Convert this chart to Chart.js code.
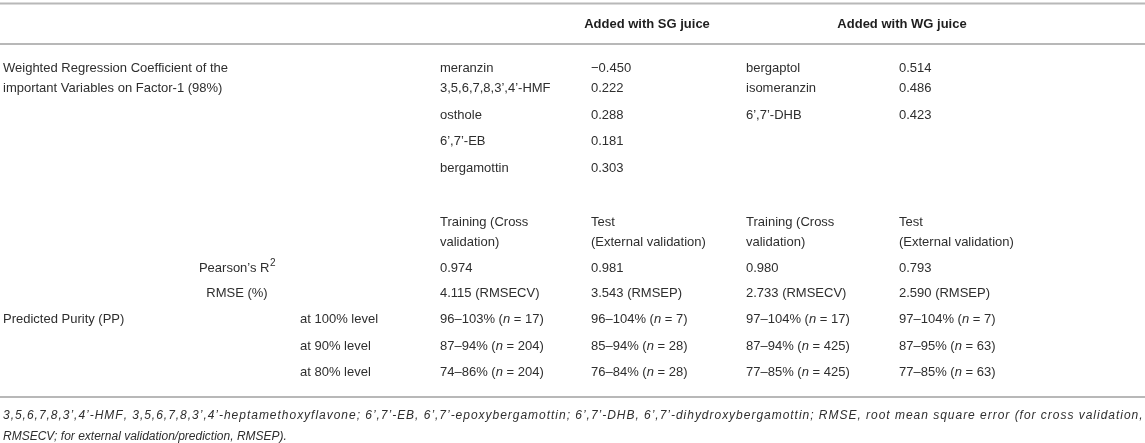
<!DOCTYPE html>
<html>
<head>
<meta charset="utf-8">
<script src="https://cdn.jsdelivr.net/npm/chart.js@4.4.1/dist/chart.umd.min.js"></script>
<style>
  html, body { margin: 0; padding: 0; background: #ffffff; }
  #wrap { width: 1145px; height: 443px; position: relative; }
</style>
</head>
<body>
<div id="wrap"><canvas id="c"></canvas></div>
<script>
// ---------------- DATA ----------------
const groupHeaders = ['Added with SG juice', 'Added with WG juice'];
const coefTitle = ['Weighted Regression Coefficient of the', 'important Variables on Factor-1 (98%)'];
const sgCompounds = ['meranzin', '3,5,6,7,8,3’,4’-HMF', 'osthole', '6’,7’-EB', 'bergamottin'];
const sgCoefficients = [-0.450, 0.222, 0.288, 0.181, 0.303];
const wgCompounds = ['bergaptol', 'isomeranzin', '6’,7’-DHB'];
const wgCoefficients = [0.514, 0.486, 0.423];
const modelColumns = [
  ['Training (Cross', 'validation)'],
  ['Test', '(External validation)'],
  ['Training (Cross', 'validation)'],
  ['Test', '(External validation)']
];
const pearsonR2 = [0.974, 0.981, 0.980, 0.793];
const rmseValues = [4.115, 3.543, 2.733, 2.590];
const rmseKinds = ['RMSECV', 'RMSEP', 'RMSECV', 'RMSEP'];
const purityTitle = 'Predicted Purity (PP)';
const purityLevels = ['at 100% level', 'at 90% level', 'at 80% level'];
const purityLow = [[96, 96, 97, 97], [87, 85, 87, 87], [74, 76, 77, 77]];
const purityHigh = [[103, 104, 104, 104], [94, 94, 94, 95], [86, 84, 85, 85]];
const purityN = [[17, 7, 17, 7], [204, 28, 425, 63], [204, 28, 425, 63]];
const footnote = [
  '3,5,6,7,8,3’,4’-HMF, 3,5,6,7,8,3’,4’-heptamethoxyflavone; 6’,7’-EB, 6’,7’-epoxybergamottin; 6’,7’-DHB, 6’,7’-dihydroxybergamottin; RMSE, root mean square error (for cross validation,',
  'RMSECV; for external validation/prediction, RMSEP).'
];

// ---------------- LAYOUT (positions in scale units) ----------------
const L = {
  ruleTop: 3.5, ruleHead: 44, ruleBottom: 397,
  headY: 24,
  coefY: [68, 88, 115, 141, 168],
  modelY: [222, 242],
  r2Y: 268, rmseY: 293,
  purityY: [319, 346, 372],
  footY: [416, 437],
  xLabel: 3, xStatCenter: 237, xLevel: 300,
  xCols: [440, 591, 746, 899],
  headCenters: [647, 902],
  footRight: 1141
};
const FONT = '"Liberation Sans", Arial, sans-serif';
const TXT = '#2e2e2e';

function fmt(v, d) {
  const s = Math.abs(v).toFixed(d);
  return (v < 0 ? '−' : '') + s;
}

const tablePlugin = {
  id: 'tableDraw',
  afterDraw(chart) {
    const ctx = chart.ctx;
    const xs = chart.scales.x, ys = chart.scales.y;
    const X = v => xs.getPixelForValue(v);
    const Y = v => ys.getPixelForValue(v);
    ctx.save();
    // rules
    ctx.strokeStyle = '#b8b8b8';
    ctx.lineWidth = 2;
    [L.ruleTop, L.ruleHead, L.ruleBottom].forEach(r => {
      ctx.beginPath();
      ctx.moveTo(X(0), Y(r));
      ctx.lineTo(X(1145), Y(r));
      ctx.stroke();
    });
    ctx.fillStyle = TXT;
    ctx.textBaseline = 'middle';
    const txt = (s, x, y, font, align) => {
      ctx.font = font || ('13px ' + FONT);
      ctx.textAlign = align || 'left';
      ctx.fillText(s, X(x), Y(y));
    };
    // group headers
    ctx.fillStyle = '#1e1e1e';
    groupHeaders.forEach((h, i) => txt(h, L.headCenters[i], L.headY, 'bold 13px ' + FONT, 'center'));
    ctx.fillStyle = TXT;
    // coefficient block
    coefTitle.forEach((s, i) => txt(s, L.xLabel, L.coefY[i]));
    sgCompounds.forEach((s, i) => {
      txt(s, L.xCols[0], L.coefY[i]);
      txt(fmt(sgCoefficients[i], 3), L.xCols[1], L.coefY[i]);
    });
    wgCompounds.forEach((s, i) => {
      txt(s, L.xCols[2], L.coefY[i]);
      txt(fmt(wgCoefficients[i], 3), L.xCols[3], L.coefY[i]);
    });
    // model headers
    modelColumns.forEach((lines, c) => lines.forEach((s, r) => txt(s, L.xCols[c], L.modelY[r])));
    // Pearson R2 with superscript
    ctx.font = '13px ' + FONT;
    const base = 'Pearson’s R';
    const wBase = ctx.measureText(base).width;
    ctx.font = '10px ' + FONT;
    const wSup = ctx.measureText('2').width;
    const startX = X(L.xStatCenter) - (wBase + wSup) / 2;
    ctx.font = '13px ' + FONT; ctx.textAlign = 'left';
    ctx.fillText(base, startX, Y(L.r2Y));
    ctx.font = '10px ' + FONT;
    ctx.fillText('2', startX + wBase + 0.5, Y(L.r2Y) - 4.5);
    pearsonR2.forEach((v, c) => txt(v.toFixed(3), L.xCols[c], L.r2Y));
    // RMSE
    txt('RMSE (%)', L.xStatCenter, L.rmseY, null, 'center');
    rmseValues.forEach((v, c) => txt(v.toFixed(3) + ' (' + rmseKinds[c] + ')', L.xCols[c], L.rmseY));
    // predicted purity
    txt(purityTitle, L.xLabel, L.purityY[0]);
    purityLevels.forEach((s, r) => {
      txt(s, L.xLevel, L.purityY[r]);
      for (let c = 0; c < 4; c++) {
        const segs = [
          [purityLow[r][c] + '–' + purityHigh[r][c] + '% (', '13px ' + FONT],
          ['n', 'italic 13px ' + FONT],
          [' = ' + purityN[r][c] + ')', '13px ' + FONT]
        ];
        let px = X(L.xCols[c]);
        ctx.textAlign = 'left';
        segs.forEach(([s, f]) => {
          ctx.font = f;
          ctx.fillText(s, px, Y(L.purityY[r]));
          px += ctx.measureText(s).width;
        });
      }
    });
    // footnote: first line justified (letter-spaced) to full width
    ctx.font = 'italic 12px ' + FONT;
    ctx.textAlign = 'left';
    const line = footnote[0];
    const chars = Array.from(line);
    const natural = ctx.measureText(line).width;
    const target = X(L.footRight) - X(L.xLabel);
    const extra = (target - natural) / (chars.length - 1);
    let fx = X(L.xLabel);
    chars.forEach(ch => {
      ctx.fillText(ch, fx, Y(L.footY[0]));
      fx += ctx.measureText(ch).width + extra;
    });
    ctx.fillText(footnote[1], X(L.xLabel), Y(L.footY[1]));
    ctx.restore();
  }
};

new Chart(document.getElementById('c'), {
  type: 'scatter',
  data: { datasets: [{ data: [], pointRadius: 0 }] },
  options: {
    responsive: true,
    maintainAspectRatio: false,
    animation: false,
    layout: { padding: 0 },
    plugins: { legend: { display: false }, tooltip: { enabled: false } },
    scales: {
      x: { type: 'linear', min: 0, max: 1145, display: false },
      y: { type: 'linear', min: 0, max: 443, reverse: true, display: false }
    }
  },
  plugins: [tablePlugin]
});
</script>
</body>
</html>
